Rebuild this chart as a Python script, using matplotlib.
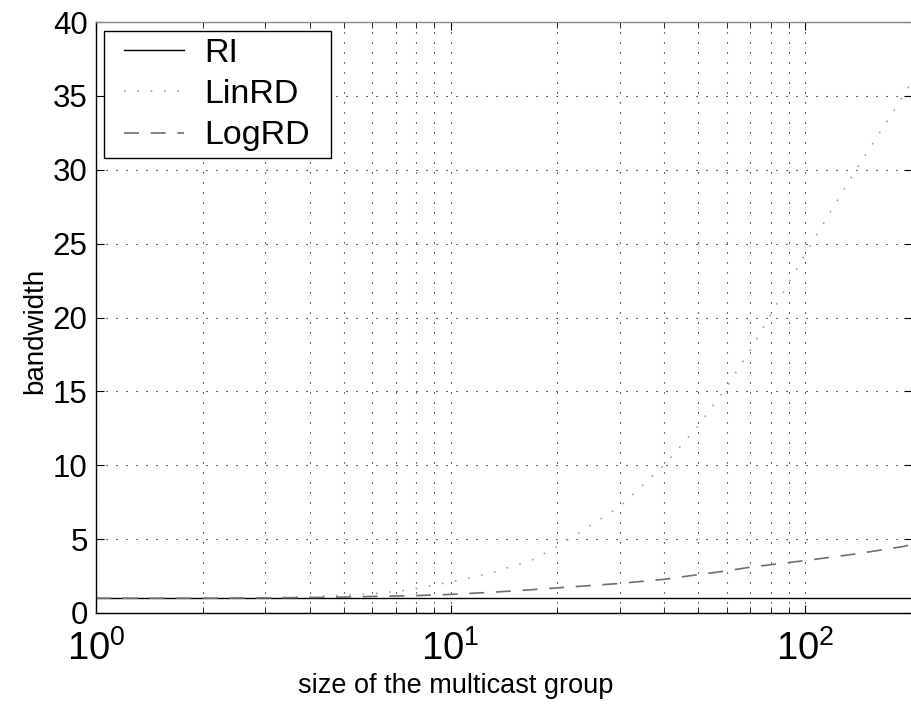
import matplotlib
matplotlib.use("Agg")
import matplotlib.pyplot as plt
from matplotlib.patches import Rectangle

plt.rcParams['font.family'] = ['Liberation Sans', 'DejaVu Sans']

# group size and bandwidth
group_size = [1, 2, 3, 4, 5, 6, 7, 8, 9, 10, 13, 17, 20, 30, 40, 50, 60, 70,
              104, 139, 189, 200]
ri = [1.0] * len(group_size)
lin_rd = [1.0, 1.0, 1.02, 1.1, 1.2, 1.3, 1.45, 1.65, 1.9, 2.1, 2.7, 3.6, 4.5,
          7.2, 10.0, 12.7, 15.3, 17.8, 25.0, 30.0, 35.0, 36.0]
log_rd = [1.0, 1.0, 1.02, 1.05, 1.08, 1.12, 1.15, 1.18, 1.22, 1.26, 1.4, 1.58,
          1.7, 2.0, 2.28, 2.6, 2.85, 3.1, 3.6, 4.0, 4.5, 4.65]

W, H = 912, 704
fig = plt.figure(figsize=(W / 100, H / 100), dpi=100)
ax = fig.add_axes([96 / W, 1 - 613 / H, 816 / W, 591 / H])

ax.plot(group_size, ri, color='black', lw=1.0, label='RI')
ax.plot(group_size, lin_rd, color='#a0a0a0', lw=1.2, linestyle=(0, (1, 7)),
        label='LinRD')
ax.plot(group_size, log_rd, color='#707070', lw=1.2, linestyle=(0, (9, 7)),
        label='LogRD')

ax.set_xscale('log')
ax.set_xlim(1, 200)
ax.set_ylim(0, 40)
ax.set_yticks(range(0, 41, 5))

ax.grid(True, which='major', axis='both', color='black', lw=0.8,
        linestyle=(0, (1, 8)))
ax.grid(True, which='minor', axis='x', color='black', lw=0.8,
        linestyle=(0, (1, 8)))

ax.tick_params(which='both', direction='in', top=True, right=True)
ax.tick_params(which='major', length=6)
ax.tick_params(which='minor', length=4)
ax.tick_params(axis='y', labelsize=22.5, pad=6)
ax.tick_params(axis='x', labelsize=27.5, pad=12,
               labelfontfamily=['Liberation Sans Narrow', 'Liberation Sans'])
for s in ax.spines.values():
    s.set_linewidth(1.0)
ax.spines['top'].set_color('#888888')

ax.set_xlabel('size of the multicast group', fontsize=19.5)
ax.xaxis.set_label_coords((456 - 96) / 816, -(673 - 613) / 591)
ax.set_ylabel('bandwidth', fontsize=20)
ax.yaxis.set_label_coords((48 - 96) / 816, 1 - (331 - 22) / 591)

# legend without frame, then a frame with wider side padding
leg = ax.legend(loc='upper left', bbox_to_anchor=(28 / 816, 1 - 16 / 591),
                fontsize=24.5, frameon=False, handlelength=1.75,
                borderaxespad=0, borderpad=0, labelspacing=0.3,
                handletextpad=0.62)
fig.canvas.draw()
bb = leg.get_window_extent()
frame = Rectangle((bb.x0 - 20, bb.y0 - 7), bb.width + 41, bb.height + 14,
                  transform=None, facecolor='white', edgecolor='black',
                  lw=1.0, zorder=4.9, clip_on=False)
ax.add_artist(frame)

fig.savefig('out.png', dpi=100)
